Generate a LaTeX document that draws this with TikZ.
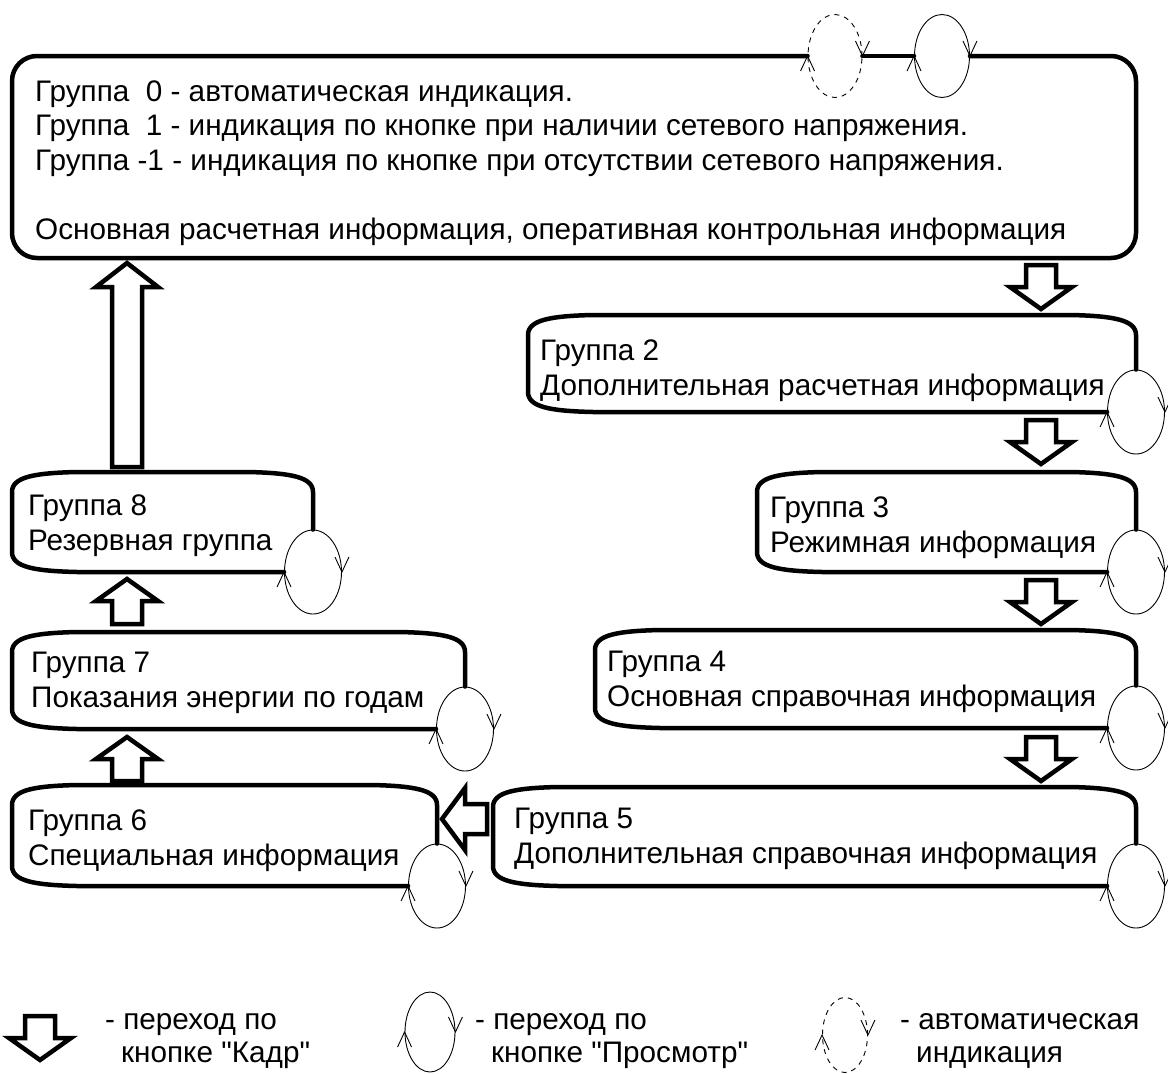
\documentclass[tikz,border=0pt]{standalone}
\usepackage{fontspec}
\setmainfont{Liberation Sans}[Ligatures=TeXOff]
\usetikzlibrary{shapes.geometric}
\newcommand\grpbox[5]{% L, T, R, B, loop node
  \draw[outline] (#5.north) -- (#3,#2+20) .. controls (#3,#2+5) and (#3-22,#2+1) .. (#3-65,#2)
    -- (#1+65,#2) .. controls (#1+22,#2+1) and (#1,#2+5) .. (#1,#2+20)
    -- (#1,#4-20) .. controls (#1,#4-5) and (#1+22,#4-1) .. (#1+65,#4)
    -- (#5.west);
}
\newcommand\loopmarks[1]{%
  \draw[markline] ([shift={(-7,15)}]#1.west) -- (#1.west) -- ([shift={(7,15)}]#1.west);
  \draw[markline] ([shift={(-7,-15)}]#1.east) -- (#1.east) -- ([shift={(7,-15)}]#1.east);
}
\begin{document}
\begin{tikzpicture}[x=1pt,y=-1pt,
  outline/.style={line width=4.5pt, line join=round, line cap=round},
  markline/.style={line width=0.9pt},
  loopnode/.style={ellipse, draw, line width=0.9pt, minimum width=57pt, minimum height=84pt, inner sep=0pt},
  autoloop/.style={loopnode, dashed, dash pattern=on 5pt off 5pt},
  txt/.style={font=\fontsize{29.7}{34.5}\selectfont, align=left, inner sep=0pt, anchor=base west},
  legtxt/.style={font=\fontsize{29.7}{33}\selectfont, inner sep=0pt, anchor=base west},
  blk/.style={line width=4.5pt, line join=miter, fill=white},
  pics/barrow/.style n args={2}{code={%
    \draw[blk] (-15,-#1) -- (15,-#1) -- (15,-#2) -- (31,-#2) -- (0,0) -- (-31,-#2) -- (-15,-#2) -- cycle;}},
]
\useasboundingbox (0,0) rectangle (1168,1074);

% ---------- group 0 ----------
\node[autoloop, minimum width=54pt, minimum height=83pt] (la) at (835,56) {};
\node[loopnode, minimum width=55pt, minimum height=83pt] (lb) at (942,56) {};
\draw[outline, rounded corners=25pt] (la.west) -- (12,56) -- (12,258) -- (1136,258) -- (1136,56) -- (lb.east);
\draw[outline] (la.east) -- (lb.west);
\loopmarks{la}
\loopmarks{lb}
\node[txt] (g0) at (35,239) {Группа\ \ 0 - автоматическая индикация.\\
Группа\ \ 1 - индикация по кнопке при наличии сетевого напряжения.\\
Группа -1 - индикация по кнопке при отсутствии сетевого напряжения.\\
~\\
Основная расчетная информация, оперативная контрольная информация};

% ---------- right column ----------
\node[loopnode] (l2) at (1136,412) {};
\grpbox{528}{315}{1136}{412}{l2}
\loopmarks{l2}
\node[txt] (g2) at (540,395) {Группа 2\\Дополнительная расчетная информация};

\node[loopnode] (l3) at (1136,572) {};
\grpbox{757}{472}{1136}{572}{l3}
\loopmarks{l3}
\node[txt] (g3) at (770,552) {Группа 3\\Режимная информация};

\node[loopnode] (l4) at (1136,728) {};
\grpbox{595}{630}{1136}{728}{l4}
\loopmarks{l4}
\node[txt] (g4) at (607,706) {Группа 4\\Основная справочная информация};

\node[loopnode] (l5) at (1136,886) {};
\grpbox{493}{787}{1136}{886}{l5}
\loopmarks{l5}
\node[txt] (g5) at (514,863) {Группа 5\\Дополнительная справочная информация};

% ---------- left column ----------
\node[loopnode] (l6) at (437,886) {};
\grpbox{12}{785}{437}{886}{l6}
\loopmarks{l6}
\node[txt] (g6) at (28,865) {Группа 6\\Специальная информация};

\node[loopnode] (l7) at (465,729) {};
\grpbox{12}{632}{465}{729}{l7}
\loopmarks{l7}
\node[txt] (g7) at (31,707) {Группа 7\\Показания энергии по годам};

\node[loopnode] (l8) at (313,572) {};
\grpbox{12}{472}{313}{572}{l8}
\loopmarks{l8}
\node[txt] (g8) at (28,550) {Группа 8\\Резервная группа};

% ---------- "Кадр" transitions ----------
\pic at (1041,309) {barrow={44}{22}};
\pic at (1041,464) {barrow={44}{22}};
\pic at (1041,624) {barrow={44}{22}};
\pic at (1041,781) {barrow={44}{22}};
\pic[rotate=-90] at (442,819) {barrow={45}{23}};
\pic[rotate=180] at (127,737) {barrow={44}{22}};
\pic[rotate=180] at (127,579) {barrow={45}{22}};
\pic[rotate=180] at (127,263) {barrow={204}{24}};

% ---------- legend ----------
\pic at (40,1060) {barrow={44}{22}};
\node[legtxt] (k1) at (105,1029) {- переход по};
\node[legtxt] (k2) at (121,1062) {кнопке "Кадр"};
\node[loopnode, minimum width=50pt, minimum height=80pt] (lg1) at (430,1032) {};
\loopmarks{lg1}
\node[legtxt] (k3) at (475,1029) {- переход по};
\node[legtxt] (k4) at (491,1062) {кнопке "Просмотр"};
\node[autoloop, minimum width=45pt, minimum height=75pt] (lg2) at (845,1035) {};
\loopmarks{lg2}
\node[legtxt] (k5) at (900,1029) {- автоматическая};
\node[legtxt] (k6) at (916,1062) {индикация};
\end{tikzpicture}
\end{document}
